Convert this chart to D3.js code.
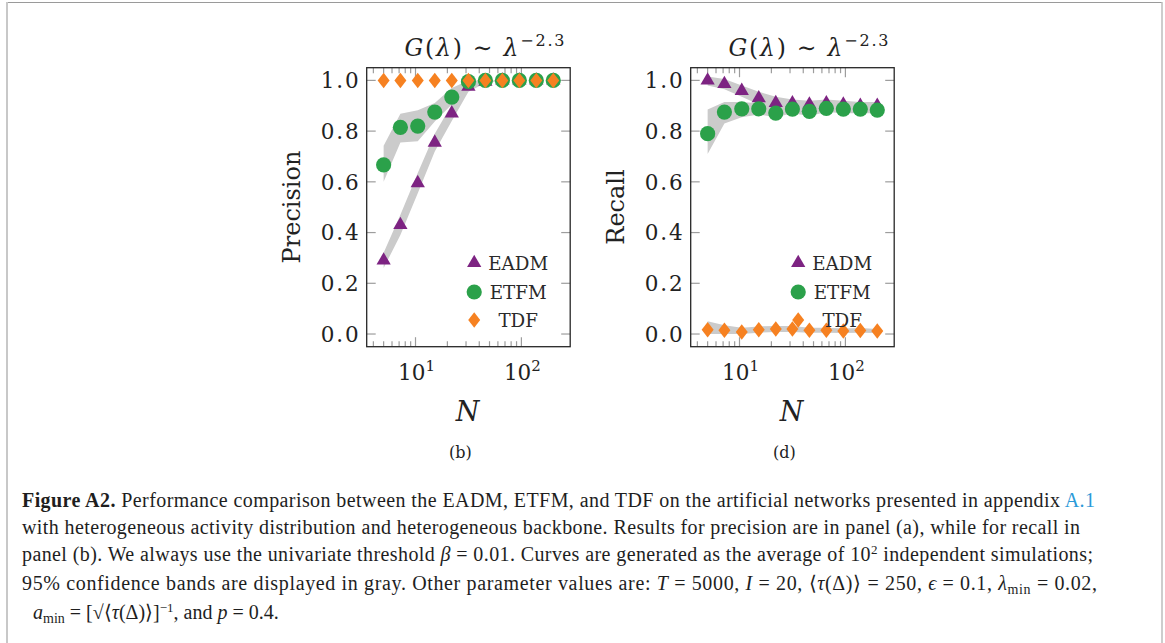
<!DOCTYPE html>
<html>
<head>
<meta charset="utf-8">
<script src="https://cdn.jsdelivr.net/npm/d3@7"></script>
<style>
body { margin: 0; background: #fff; }
svg { display: block; }
</style>
</head>
<body>
<svg id="fig" width="1165" height="643"></svg>
<script>
//data
var N = [5, 7.2, 10.5, 15.2, 22, 31.6, 45.7, 66.1, 95.6, 138.3, 200];

var precEADM   = [0.29, 0.43, 0.595, 0.755, 0.87, 0.975, 0.995, 1, 1, 1, 1];
var precEADMlo = [0.26, 0.39, 0.555, 0.72, 0.84, 0.955, 0.99, 1, 1, 1, 1];
var precEADMhi = [0.32, 0.47, 0.635, 0.79, 0.905, 0.995, 1, 1, 1, 1, 1];
var precETFM   = [0.667, 0.815, 0.82, 0.875, 0.934, 0.995, 1, 1, 1, 1, 1];
var precETFMlo = [0.60, 0.755, 0.76, 0.838, 0.905, 0.985, 1, 1, 1, 1, 1];
var precETFMhi = [0.742, 0.868, 0.882, 0.911, 0.97, 1, 1, 1, 1, 1, 1];
var precTDF    = [1, 1, 1, 1, 1, 1, 1, 1, 1, 1, 1];

var recEADM    = [1.0, 0.986, 0.959, 0.93, 0.911, 0.91, 0.905, 0.91, 0.905, 0.90, 0.90];
var recEADMlo  = [0.98, 0.965, 0.935, 0.905, 0.895, 0.895, 0.89, 0.895, 0.89, 0.89, 0.89];
var recEADMhi  = [1.015, 1.005, 0.98, 0.955, 0.935, 0.925, 0.92, 0.925, 0.92, 0.915, 0.915];
var recETFM    = [0.79, 0.875, 0.888, 0.888, 0.871, 0.887, 0.878, 0.89, 0.887, 0.887, 0.883];
var recETFMlo  = [0.71, 0.83, 0.855, 0.865, 0.855, 0.87, 0.86, 0.875, 0.87, 0.87, 0.87];
var recETFMhi  = [0.885, 0.915, 0.915, 0.91, 0.895, 0.905, 0.9, 0.905, 0.905, 0.905, 0.9];
var recTDF     = [0.017, 0.015, 0.008, 0.017, 0.02, 0.02, 0.015, 0.015, 0.012, 0.014, 0.012];
var recTDFlo   = [0.0, 0.0, 0.0, 0.005, 0.008, 0.008, 0.005, 0.005, 0.004, 0.005, 0.004];
var recTDFhi   = [0.05, 0.035, 0.025, 0.03, 0.032, 0.032, 0.025, 0.025, 0.022, 0.024, 0.02];

var yTicks = [0, 0.2, 0.4, 0.6, 0.8, 1.0];
var xMajor = [10, 100];
var xMajorLabels = ["1", "2"];
var xMinor = [4, 5, 6, 7, 8, 9, 20, 30, 40, 50, 60, 70, 80, 90];
var legendNames = ["EADM", "ETFM", "TDF"];

var colEADM = "#7d2382", colETFM = "#2ba14a", colTDF = "#f68121", colBand = "#cbcbcb";

var svg = d3.select("#fig");
var serif = "'DejaVu Serif', serif";

//figure frame (open at the bottom)
svg.append("line").attr("x1", 6).attr("x2", 1162).attr("y1", 2.5).attr("y2", 2.5)
	.attr("stroke", "#9a9a9a").attr("stroke-width", 1);
svg.append("line").attr("x1", 7).attr("x2", 7).attr("y1", 2).attr("y2", 643)
	.attr("stroke", "#c8c8c8").attr("stroke-width", 2);
svg.append("line").attr("x1", 1162).attr("x2", 1162).attr("y1", 2).attr("y2", 643)
	.attr("stroke", "#bdbdbd").attr("stroke-width", 1.5);

//marker helpers
function diamondPath(w, h)
{
	return "M0," + (-h / 2) + "L" + (w / 2) + ",0L0," + (h / 2) + "L" + (-w / 2) + ",0Z";
}
var triPath = d3.symbol().type(d3.symbolTriangle).size(88)();

function drawMarker(g, kind, cx, cy)
{
	if(kind == 0)
		g.append("path").attr("d", triPath).attr("fill", colEADM)
			.attr("transform", "translate(" + cx + "," + cy + ")");
	else if(kind == 1)
		g.append("circle").attr("cx", cx).attr("cy", cy).attr("r", 7.6).attr("fill", colETFM);
	else
		g.append("path").attr("d", diamondPath(12, 15.5)).attr("fill", colTDF)
			.attr("transform", "translate(" + cx + "," + cy + ")");
}

function panel(opt)
{
	var left = opt.left, right = opt.left + 203.5, top = 67.7, bottom = 346.7;
	var x = d3.scaleLog().domain([3.46, 289]).range([left, right]);
	var y = d3.scaleLinear().domain([-0.05, 1.05]).range([bottom, top]);
	var g = svg.append("g");

	//confidence bands
	opt.bands.forEach(function(b)
		{
			var area = d3.area()
				.x(function(d, i) { return x(N[i]); })
				.y0(function(d, i) { return y(b[0][i]); })
				.y1(function(d, i) { return y(b[1][i]); });
			g.append("path").datum(N).attr("d", area).attr("fill", colBand);
		});

	//ticks: gray, drawn inside the box
	var tk = g.append("g").attr("stroke", "#9d9d9d").attr("stroke-width", 1.2);
	yTicks.forEach(function(t)
		{
			tk.append("line").attr("x1", left).attr("x2", left + 9).attr("y1", y(t)).attr("y2", y(t));
			tk.append("line").attr("x1", right - 9).attr("x2", right).attr("y1", y(t)).attr("y2", y(t));
		});
	xMinor.forEach(function(t)
		{
			tk.append("line").attr("x1", x(t)).attr("x2", x(t)).attr("y1", bottom).attr("y2", bottom - 5.5);
			tk.append("line").attr("x1", x(t)).attr("x2", x(t)).attr("y1", top).attr("y2", top + 5.5);
		});
	xMajor.forEach(function(t)
		{
			tk.append("line").attr("x1", x(t)).attr("x2", x(t)).attr("y1", bottom).attr("y2", bottom - 9.5);
			tk.append("line").attr("x1", x(t)).attr("x2", x(t)).attr("y1", top).attr("y2", top + 9.5);
		});

	//series markers: triangles, then circles, then diamonds on top
	opt.series.forEach(function(s, k)
		{
			s.forEach(function(v, i) { drawMarker(g, k, x(N[i]), y(v)); });
		});

	//legend
	var lx = left + 107.5, ly = [263, 292, 320];
	legendNames.forEach(function(name, k)
		{
			drawMarker(g, k, lx, ly[k]);
			g.append("text").attr("x", left + 151.5).attr("y", ly[k] + 6.7)
				.attr("text-anchor", "middle").attr("font-family", serif).attr("font-size", 18.3)
				.attr("fill", "#2a2a2a").text(name);
		});

	//box
	g.append("rect").attr("x", left).attr("y", top).attr("width", right - left).attr("height", bottom - top)
		.attr("fill", "none").attr("stroke", "#262626").attr("stroke-width", 1.3);

	//y tick labels
	yTicks.forEach(function(t)
		{
			g.append("text").attr("x", left - 8).attr("y", y(t) + 7.8).attr("text-anchor", "end")
				.attr("textLength", 38).attr("lengthAdjust", "spacing")
				.attr("font-family", serif).attr("font-size", 21.5).attr("fill", "#222")
				.text(d3.format(".1f")(t));
		});

	//x tick labels 10^k
	xMajor.forEach(function(t, i)
		{
			var tx = g.append("text").attr("x", x(t) + 1).attr("y", 380).attr("text-anchor", "middle")
				.attr("font-family", serif).attr("font-size", 21.5).attr("fill", "#222");
			tx.append("tspan").text("10");
			tx.append("tspan").attr("font-size", 15).attr("dy", -9).text(xMajorLabels[i]);
		});

	//axis labels
	g.append("text").attr("transform", "translate(" + (left - 67) + ",207) rotate(-90)")
		.attr("text-anchor", "middle").attr("font-family", serif).attr("font-size", 24)
		.attr("fill", "#222").text(opt.ylabel);
	g.append("text").attr("x", (left + right) / 2 - 1).attr("y", 421).attr("text-anchor", "middle")
		.attr("font-family", serif).attr("font-style", "italic").attr("font-size", 27)
		.attr("fill", "#222").text("N");

	//title G(λ) ~ λ^-2.3
	var tt = g.append("text").attr("x", (left + right) / 2 + 16).attr("y", 56).attr("text-anchor", "middle")
		.attr("textLength", 160).attr("lengthAdjust", "spacing")
		.attr("font-family", serif).attr("font-size", 23.5).attr("fill", "#222");
	tt.append("tspan").attr("font-style", "italic").text("G");
	tt.append("tspan").text("(");
	tt.append("tspan").attr("font-style", "italic").text("λ");
	tt.append("tspan").text(") ∼ ");
	tt.append("tspan").attr("font-style", "italic").text("λ");
	tt.append("tspan").attr("font-size", 16).attr("dy", -10).text("−2.3");

	//sub-panel tag
	g.append("text").attr("x", (left + right) / 2 - 8).attr("y", 458).attr("text-anchor", "middle")
		.attr("font-family", serif).attr("font-size", 16).attr("fill", "#222").text(opt.tag);
}

panel({ left: 366.7, ylabel: "Precision", tag: "(b)",
	bands: [[precEADMlo, precEADMhi], [precETFMlo, precETFMhi]],
	series: [precEADM, precETFM, precTDF] });

panel({ left: 690.7, ylabel: "Recall", tag: "(d)",
	bands: [[recEADMlo, recEADMhi], [recETFMlo, recETFMhi], [recTDFlo, recTDFhi]],
	series: [recEADM, recETFM, recTDF] });

//caption
var capFont = "'Liberation Serif', serif";
var capX = [22, 22, 22, 22, 33], capY = [507, 534, 561, 590, 619];
var cap = svg.append("g").attr("font-family", capFont).attr("font-size", 20).attr("fill", "#1e1e1e");

function capLine(i, width)
{
	var t = cap.append("text").attr("x", capX[i]).attr("y", capY[i]);
	if(width) t.attr("textLength", width).attr("lengthAdjust", "spacing");
	return t;
}
function it(t, s) { return t.append("tspan").attr("font-style", "italic").text(s); }
function rm(t, s) { return t.append("tspan").text(s); }
function sub(t, s) { return t.append("tspan").attr("font-size", 14).attr("dy", 4).text(s); }
function up(t, s, dy) { return t.append("tspan").attr("dy", dy).text(s); }

var l1 = capLine(0, 1073);
l1.append("tspan").attr("font-weight", "bold").text("Figure A2.");
rm(l1, "  Performance comparison between the EADM, ETFM, and TDF on the artificial networks presented in appendix ");
l1.append("tspan").attr("fill", "#2b9ad8").text("A.1");

var l2 = capLine(1, 1058);
rm(l2, "with heterogeneous activity distribution and heterogeneous backbone. Results for precision are in panel (a), while for recall in");

var l3 = capLine(2, 1071);
rm(l3, "panel (b). We always use the univariate threshold ");
it(l3, "β");
rm(l3, " = 0.01. Curves are generated as the average of 10");
l3.append("tspan").attr("font-size", 13).attr("dy", -7).text("2");
up(l3, " independent simulations;", 7);

var l4 = capLine(3, 1075);
rm(l4, "95% confidence bands are displayed in gray. Other parameter values are: ");
it(l4, "T"); rm(l4, " = 5000, "); it(l4, "I"); rm(l4, " = 20, ⟨"); it(l4, "τ");
rm(l4, "(Δ)⟩ = 250, "); it(l4, "ϵ"); rm(l4, " = 0.1, "); it(l4, "λ");
sub(l4, "min"); up(l4, " = 0.02,", -4);

var l5 = capLine(4, null);
it(l5, "a"); sub(l5, "min"); up(l5, " = [√⟨", -4); it(l5, "τ"); rm(l5, "(Δ)⟩]");
l5.append("tspan").attr("font-size", 13).attr("dy", -7).text("−1");
up(l5, ", and ", 7); it(l5, "p"); rm(l5, " = 0.4.");
</script>
</body>
</html>
